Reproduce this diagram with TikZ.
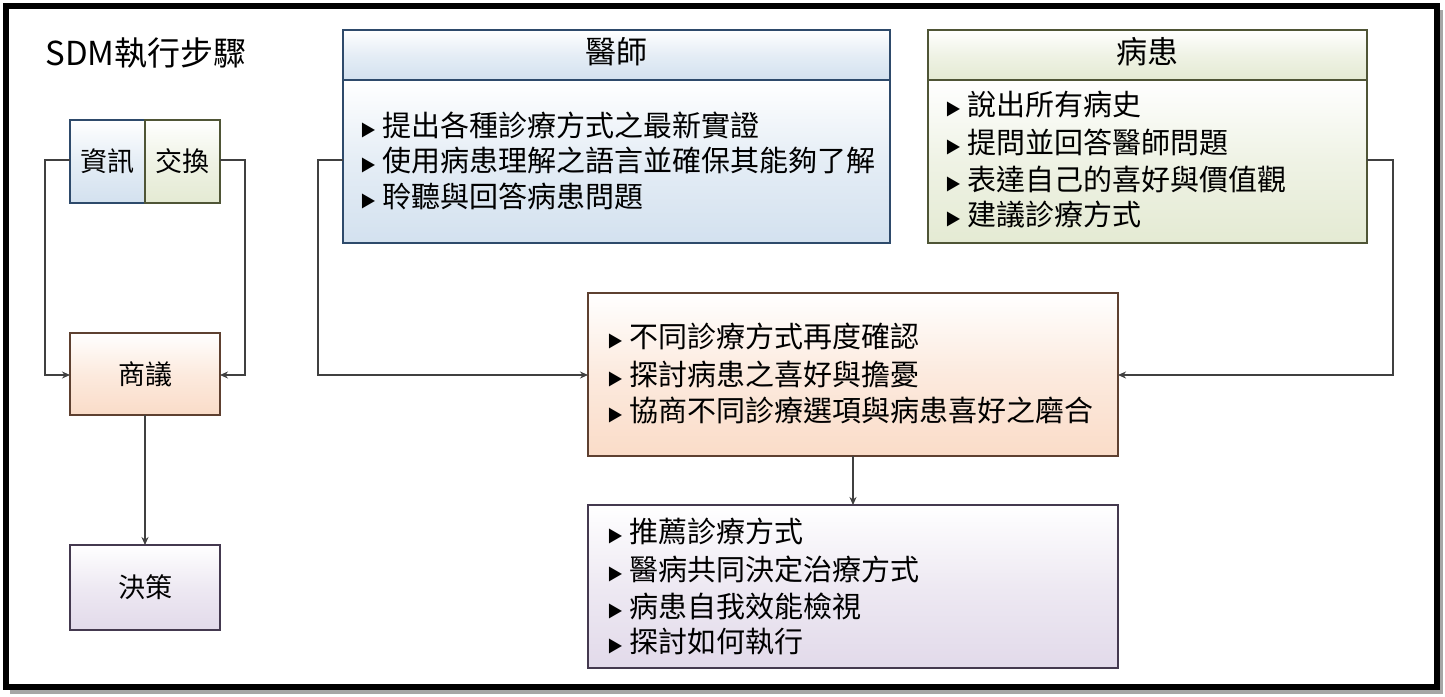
\documentclass[tikz,border=0pt]{standalone}
\usepackage{fontspec}
\setmainfont{Noto Sans CJK TC}
\usetikzlibrary{arrows.meta}
\definecolor{bluebd}{HTML}{2E4A6B}
\definecolor{bluefl}{HTML}{D3E1EF}
\definecolor{greenbd}{HTML}{4F5536}
\definecolor{greenfl}{HTML}{E4EAD3}
\definecolor{peachbd}{HTML}{5E4030}
\definecolor{peachfl}{HTML}{FADCC8}
\definecolor{lavbd}{HTML}{44394F}
\definecolor{lavfl}{HTML}{E2DAEA}
\tikzset{
  x=1pt,y=-1pt,
  bx/.style={draw=#1bd,line width=1.6pt,top color=white,bottom color=#1fl,middle color=#1fl!60},
  conn/.style={line width=1.6pt,draw=black!75,-{Stealth[length=8pt,width=7pt]}},
  txt/.style={anchor=west,inner sep=0pt,font=\fontsize{29}{30}\selectfont},
  lbl/.style={font=\fontsize{27}{28}\selectfont}
}
\newcommand{\bul}{{\fontsize{16}{16}\selectfont ▶}\hspace{6pt}}
\begin{document}
\begin{tikzpicture}
\useasboundingbox (0,0) rectangle (1445,696);
\fill[black!35] (10,10) rectangle (1443,694);
\draw[line width=6pt,fill=white] (6,6) rectangle (1437,687);
\node[lbl,font=\fontsize{33}{34}\selectfont] (title) at (146,53) {SDM執行步驟};
% left
\draw[bx=blue] (70,120) rectangle (145,203);
\node[lbl] (zx) at (107.5,161) {資訊};
\draw[bx=green] (145,120) rectangle (220,203);
\node[lbl] (jh) at (182.5,161) {交換};
\draw[bx=peach] (70,333) rectangle (220,415);
\node[lbl] (sy) at (145,374) {商議};
\draw[bx=lav] (70,545) rectangle (220,630);
\node[lbl] (jc) at (145,587) {決策};
\coordinate (zxl) at (70,160); \coordinate (jhr) at (220,160);
\coordinate (syl) at (70,375); \coordinate (syr) at (220,375);
\coordinate (syb) at (145,415); \coordinate (jct) at (145,545);
\draw[conn] (zxl) -- (45,160) -- (45,375) -- (syl);
\draw[conn] (jhr) -- (245,160) -- (245,375) -- (syr);
\draw[conn] (syb) -- (jct);
% doctor
\draw[bx=blue] (343,80) rectangle (890,243);
\draw[bx=blue] (343,30) rectangle (890,80);
\node[lbl,font=\fontsize{31}{32}\selectfont] (doc) at (616,52) {醫師};
\node[txt] (d1) at (360,125) {\bul 提出各種診療方式之最新實證};
\node[txt] (d2) at (360,160) {\bul 使用病患理解之語言並確保其能夠了解};
\node[txt] (d3) at (360,196) {\bul 聆聽與回答病患問題};
% patient
\draw[bx=green] (928,80) rectangle (1367,243);
\draw[bx=green] (928,30) rectangle (1367,80);
\node[lbl,font=\fontsize{31}{32}\selectfont] (pat) at (1147,52) {病患};
\node[txt] (p1) at (945,105) {\bul 說出所有病史};
\node[txt] (p2) at (945,142) {\bul 提問並回答醫師問題};
\node[txt] (p3) at (945,179) {\bul 表達自己的喜好與價值觀};
\node[txt] (p4) at (945,215) {\bul 建議診療方式};
% middle
\draw[bx=peach] (588,293) rectangle (1118,456);
\node[txt] (m1) at (607,336) {\bul 不同診療方式再度確認};
\node[txt] (m2) at (607,374) {\bul 探討病患之喜好與擔憂};
\node[txt] (m3) at (607,410) {\bul 協商不同診療選項與病患喜好之磨合};
% bottom
\draw[bx=lav] (588,505) rectangle (1118,668);
\node[txt] (b1) at (607,531) {\bul 推薦診療方式};
\node[txt] (b2) at (607,569) {\bul 醫病共同決定治療方式};
\node[txt] (b3) at (607,606) {\bul 病患自我效能檢視};
\node[txt] (b4) at (607,641) {\bul 探討如何執行};
\coordinate (docl) at (343,160); \coordinate (patr) at (1367,160);
\coordinate (ml) at (588,375); \coordinate (mr) at (1118,375);
\coordinate (mb) at (853,456); \coordinate (bt) at (853,505);
\draw[conn] (docl) -- (318,160) -- (318,375) -- (ml);
\draw[conn] (patr) -- (1393,160) -- (1393,375) -- (mr);
\draw[conn] (mb) -- (bt);
\end{tikzpicture}
\end{document}
